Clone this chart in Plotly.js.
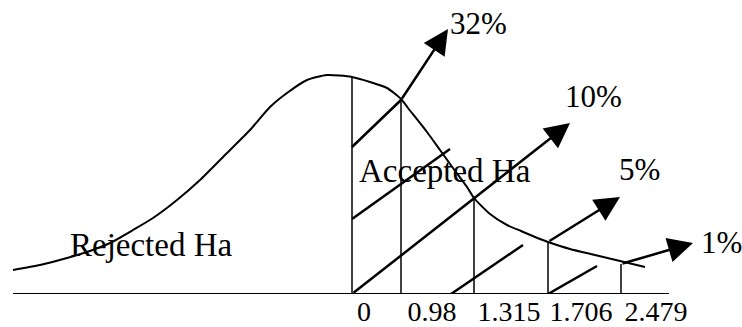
<!DOCTYPE html>
<html><head><meta charset="utf-8">
<script src="https://cdn.plot.ly/plotly-3.0.1.min.js"></script>
<style>html,body{margin:0;padding:0;background:#fff;} #chart{width:742px;height:327px;}</style>
</head><body><div id="chart"></div>
<script>
// Bell curve (x: horizontal position, y: height above the base line)
const curveX = [13,40,67,87,110,133,153,177,200,227,250,270,287,307,327,352,370,387,401,408,427,440,453,467,474,490,507,521,540,548,570,595,620,645];
const curveY = [24,29,36,42,51,64,76,94,114,141,164,187,201,214,219,217,212,206,195,186,162,144,126,107,96,80,69,63,55,52,45,39,33,27];

// Base line extent
const baseX = [13, 669];
const baseY = [0, 0];

// Critical values: cut lines and their labels
const tickLabels = ["0", "0.98", "1.315", "1.706", "2.479"];
const cutX = [352, 401, 474, 548, 621];
const cutTop = [217, 195, 96, 52, 30];
const tickPos = [364, 432, 509, 581, 656];

// Hatch strokes in the accepted region
const hatchX0 = [352, 352, 451, 548];
const hatchY0 = [147, 75, 0, 0];
const hatchX1 = [401, 450, 523, 597];
const hatchY1 = [194, 145, 49, 28];

// Significance-level arrows and labels
const levelLabels = ["32%", "10%", "5%", "1%"];
const arrowX0 = [401, 352, 548, 621];
const arrowY0 = [194, 0, 52, 30];
const arrowX1 = [448, 570, 620, 693];
const arrowY1 = [265, 171, 97, 51];
const levelX = [478, 593, 639, 721];
const levelY = [271, 198, 125, 52];

// Region labels
const regionLabels = ["Rejected Ha", "Accepted Ha"];
const regionX = [151, 445];
const regionY = [49, 123];

const FONT = "Liberation Serif, 'Times New Roman', serif";

const traces = [];
traces.push({x: baseX, y: baseY, mode: 'lines', line: {color: '#000', width: 2}, hoverinfo: 'skip'});
traces.push({x: curveX, y: curveY, mode: 'lines', line: {color: '#000', width: 2, shape: 'spline', smoothing: 0.6}, hoverinfo: 'skip', cliponaxis: false});

const vx = [], vy = [];
cutX.forEach((x, i) => { vx.push(x, x, null); vy.push(0, cutTop[i], null); });
traces.push({x: vx, y: vy, mode: 'lines', line: {color: '#000', width: 1.5}, hoverinfo: 'skip'});

const hx = [], hy = [];
hatchX0.forEach((x, i) => { hx.push(x, hatchX1[i], null); hy.push(hatchY0[i], hatchY1[i], null); });
traces.push({x: hx, y: hy, mode: 'lines', line: {color: '#000', width: 2.5}, hoverinfo: 'skip'});

const annotations = [];
levelLabels.forEach((t, i) => {
  annotations.push({x: arrowX1[i], y: arrowY1[i], ax: arrowX0[i], ay: arrowY0[i], xref: 'x', yref: 'y', axref: 'x', ayref: 'y',
    text: '', showarrow: true, arrowhead: 2, arrowsize: 2, arrowwidth: 2.5, arrowcolor: '#000', standoff: 0, startstandoff: 0});
  annotations.push({x: levelX[i], y: levelY[i], xref: 'x', yref: 'y', text: t, showarrow: false,
    xanchor: 'center', yanchor: 'middle', font: {family: FONT, size: 31, color: '#000'}});
});
regionLabels.forEach((t, i) => {
  annotations.push({x: regionX[i], y: regionY[i], xref: 'x', yref: 'y', text: t, showarrow: false,
    xanchor: 'center', yanchor: 'middle', font: {family: FONT, size: 33, color: '#000'}});
});

const layout = {
  width: 742, height: 327,
  margin: {l: 0, r: 0, t: 0, b: 33, pad: 0},
  paper_bgcolor: '#fff', plot_bgcolor: '#fff',
  showlegend: false,
  xaxis: {range: [0, 742], showgrid: false, zeroline: false, showline: false,
    tickmode: 'array', tickvals: tickPos, ticktext: tickLabels, ticks: '', ticklabelstandoff: -2,
    tickfont: {family: FONT, size: 28, color: '#000'}, fixedrange: true},
  yaxis: {range: [0, 294], visible: false, fixedrange: true},
  annotations: annotations
};

Plotly.newPlot('chart', traces, layout, {displayModeBar: false, staticPlot: true});
</script></body></html>
